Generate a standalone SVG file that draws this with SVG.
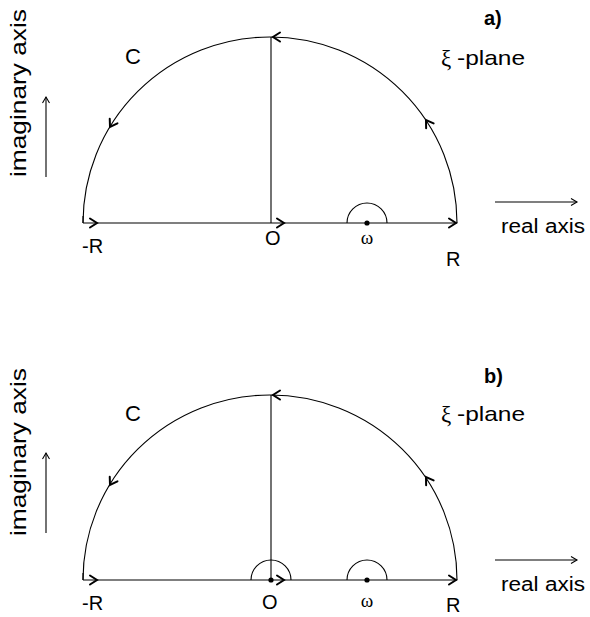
<svg xmlns="http://www.w3.org/2000/svg" xmlns:xlink="http://www.w3.org/1999/xlink" width="590" height="617" viewBox="0 0 590 617">
<style>
.ln{fill:none;stroke:#000;stroke-width:1.1}
.ah{fill:none;stroke:#000;stroke-width:2;stroke-linecap:round;stroke-linejoin:miter}
.t{font-family:"Liberation Sans",Arial,sans-serif;fill:#000}
.s{font-family:"Liberation Serif","Times New Roman",serif;fill:#000}
.b{font-family:"Liberation Sans",Arial,sans-serif;font-weight:bold;fill:#000}
</style>
<defs>
<path id="ah" d="M-7,-4.5 L0,0 L-7,4.5"/>
<path id="sa" d="M-6,-3.5 L0,0 L-6,3.5"/>
</defs>
<rect width="590" height="617" fill="#fff"/>

<g id="panel-a">
<g id="connectors-a">
<path class="ln" d="M83,223 A187,186 0 0 1 457,223"/>
<path class="ln" d="M83,223 H457"/>
<path class="ln" d="M271,223 V37"/>
<path class="ln" d="M347,223 A20,20 0 0 1 387,223"/>
<path class="ln" d="M83,223 V216"/>
<use class="ah" href="#ah" transform="translate(97,223)"/>
<use class="ah" href="#ah" transform="translate(284,223)"/>
<use class="ah" href="#ah" transform="translate(456,223)"/>
<use class="ah" href="#ah" transform="translate(273,37) rotate(180)"/>
<use class="ah" href="#ah" transform="translate(110,127) rotate(121)"/>
<use class="ah" href="#ah" transform="translate(426,120) rotate(-123.6)"/>
<path class="ln" d="M495,202 H577"/>
<use class="ln" href="#sa" transform="translate(577,202)"/>
<path class="ln" d="M46,177 V97"/>
<use class="ln" href="#sa" transform="translate(46,97) rotate(-90)"/>
</g>
<g id="omega-a"><circle cx="367" cy="223" r="2.6"/><text class="s" x="367" y="244" font-size="19" text-anchor="middle">ω</text></g>
<g id="labels-a">
<text class="b" x="484" y="25" font-size="20">a)</text>
<text class="t" x="125" y="64" font-size="22">C</text>
<text class="s" x="441" y="66" font-size="23">ξ</text>
<text class="t" x="457" y="65" font-size="21" textLength="68" lengthAdjust="spacingAndGlyphs">-plane</text>
<text class="t" x="501" y="233" font-size="20" textLength="84" lengthAdjust="spacingAndGlyphs">real axis</text>
<text class="t" x="82" y="253" font-size="20">-R</text>
<text class="t" x="265" y="245" font-size="20">O</text>
<text class="t" x="446" y="266" font-size="20">R</text>
<text class="t" transform="translate(26,177) rotate(-90)" font-size="22" textLength="168" lengthAdjust="spacingAndGlyphs">imaginary axis</text>
</g>
</g>

<g id="panel-b">
<g id="connectors-b">
<path class="ln" d="M83,580 A187,185 0 0 1 457,580"/>
<path class="ln" d="M83,580 H457"/>
<path class="ln" d="M271,580 V395"/>
<path class="ln" d="M251,580 A20,20 0 0 1 291,580"/>
<path class="ln" d="M347,580 A20,20 0 0 1 387,580"/>
<path class="ln" d="M83,580 V573"/>
<use class="ah" href="#ah" transform="translate(97,580)"/>
<use class="ah" href="#ah" transform="translate(284,580)"/>
<use class="ah" href="#ah" transform="translate(456,580)"/>
<use class="ah" href="#ah" transform="translate(273,395) rotate(180)"/>
<use class="ah" href="#ah" transform="translate(110,485) rotate(121)"/>
<use class="ah" href="#ah" transform="translate(426,477) rotate(-123.6)"/>
<path class="ln" d="M495,560 H577"/>
<use class="ln" href="#sa" transform="translate(577,560)"/>
<path class="ln" d="M46,533 V453"/>
<use class="ln" href="#sa" transform="translate(46,453) rotate(-90)"/>
</g>
<g id="origin-b"><circle cx="271" cy="580" r="2.6"/></g>
<g id="omega-b"><circle cx="367" cy="580" r="2.6"/><text class="s" x="367" y="607" font-size="19" text-anchor="middle">ω</text></g>
<g id="labels-b">
<text class="b" x="484" y="383" font-size="20">b)</text>
<text class="t" x="125" y="421" font-size="22">C</text>
<text class="s" x="441" y="422" font-size="23">ξ</text>
<text class="t" x="457" y="421" font-size="21" textLength="68" lengthAdjust="spacingAndGlyphs">-plane</text>
<text class="t" x="501" y="591" font-size="20" textLength="84" lengthAdjust="spacingAndGlyphs">real axis</text>
<text class="t" x="82" y="610" font-size="20">-R</text>
<text class="t" x="262" y="609" font-size="20">O</text>
<text class="t" x="446" y="612" font-size="20">R</text>
<text class="t" transform="translate(26,536) rotate(-90)" font-size="22" textLength="168" lengthAdjust="spacingAndGlyphs">imaginary axis</text>
</g>
</g>
</svg>
